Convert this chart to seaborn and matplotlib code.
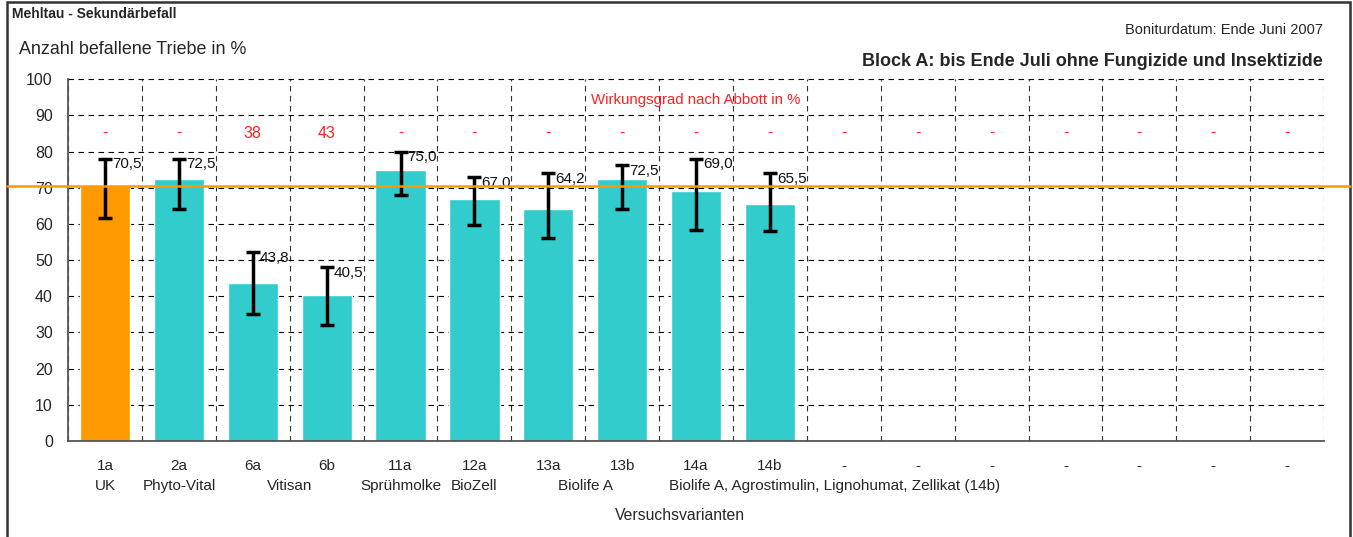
import numpy as np
import pandas as pd
import seaborn as sns
import matplotlib.pyplot as plt
import matplotlib.transforms as mtransforms
from matplotlib.patches import Rectangle
from matplotlib.lines import Line2D

# Daten
codes = ["1a", "2a", "6a", "6b", "11a", "12a", "13a", "13b", "14a", "14b",
         "-", "-", "-", "-", "-", "-", "-"]
values = [70.5, 72.5, 43.8, 40.5, 75.0, 67.0, 64.2, 72.5, 69.0, 65.5]
err_upper = [78.0, 78.0, 52.2, 48.0, 80.0, 73.0, 74.1, 76.2, 78.0, 74.1]
err_lower = [61.7, 64.1, 35.2, 32.2, 68.0, 59.8, 56.0, 64.1, 58.4, 58.0]
abbott = ["-", "-", "38", "43", "-", "-", "-", "-", "-", "-",
          "-", "-", "-", "-", "-", "-", "-"]
# Produktnamen (Text, Position in Kategorien)
names = [("UK", 0), ("Phyto-Vital", 1), ("Vitisan", 2.5), ("Sprühmolke", 4),
         ("BioZell", 5), ("Biolife A", 6.5)]
name_14 = "Biolife A, Agrostimulin, Lignohumat, Zellikat (14b)"

df = pd.DataFrame({"pos": np.arange(len(values)), "wert": values})
df["gruppe"] = ["UK"] + ["Variante"] * (len(values) - 1)

sns.set_style("white")
plt.rcParams["font.family"] = ["Liberation Sans", "DejaVu Sans"]

fig = plt.figure(figsize=(13.53, 5.37), dpi=100)
ax = fig.add_axes([0.0503, 0.1788, 0.9283, 0.6735])

sns.barplot(data=df, x="pos", y="wert", hue="gruppe", native_scale=True,
            palette={"UK": "#FF9900", "Variante": "#33CCCC"}, width=0.68,
            legend=False, saturation=1, ax=ax, zorder=2)

vals = np.array(values)
yerr = [vals - np.array(err_lower), np.array(err_upper) - vals]
ax.errorbar(df["pos"], vals, yerr=yerr, fmt="none", ecolor="black",
            elinewidth=2.5, capsize=5, capthick=2.5, zorder=4)

for i, v in enumerate(values):
    ax.annotate(f"{v:.1f}".replace(".", ","), (i, err_upper[i]),
                xytext=(5, 1), textcoords="offset points", ha="left", va="top",
                fontsize=11, color="#111111", zorder=5)

for i, t in enumerate(abbott):
    ax.text(i, 85, t, ha="center", va="center", color="#FF2020", fontsize=11.5)
ax.text(8.0, 94.4, "Wirkungsgrad nach Abbott in %", ha="center", va="center",
        color="#FF2020", fontsize=10.8)

ax.set_xlim(-0.5, len(codes) - 0.5)
ax.set_ylim(0, 100)
ax.set_yticks(np.arange(0, 101, 10))
ax.set_xticks(np.arange(len(codes)))
ax.set_xticklabels(codes, fontsize=11)
ax.set_xticks(np.arange(-0.5, len(codes), 1), minor=True)
ax.tick_params(axis="x", which="major", length=0, pad=13)
ax.tick_params(axis="x", which="minor", length=8, direction="inout", color="#333333")
ax.tick_params(axis="y", length=8, direction="inout", color="#333333", labelsize=11.5, pad=7)
ax.set_xlabel("")
ax.set_ylabel("")

ax.grid(axis="y", which="major", color="black", linestyle=(0, (5, 4)), linewidth=0.8)
ax.grid(axis="x", which="minor", color="#333333", linestyle=(0, (5, 4)), linewidth=0.8)
ax.set_axisbelow(True)
for s in ["top", "right"]:
    ax.spines[s].set_visible(False)
for s in ["left", "bottom"]:
    ax.spines[s].set_color("#555555")
    ax.spines[s].set_linewidth(1.3)

# Kontrolllinie UK quer über das Bild
tr = mtransforms.blended_transform_factory(fig.transFigure, ax.transData)
fig.add_artist(Line2D([0.005, 0.998], [values[0], values[0]], transform=tr,
                      color="#FF9900", linewidth=1.8, zorder=6))

# Produktnamen unter den Codes
trx = mtransforms.blended_transform_factory(ax.transData, fig.transFigure)
for n, p in names:
    ax.text(p, 1 - 486 / 537, n, transform=trx, ha="center", va="center",
            fontsize=11)
ax.text(7.64, 1 - 486 / 537, name_14, transform=trx, ha="left", va="center",
        fontsize=11)
ax.text(7.78, 1 - 516 / 537, "Versuchsvarianten", transform=trx, ha="center",
        va="center", fontsize=11.3)

fig.text(12 / 1353, 1 - 14 / 537, "Mehltau - Sekundärbefall", ha="left",
         va="center", fontsize=10, fontweight="bold")
fig.text(19 / 1353, 1 - 50 / 537, "Anzahl befallene Triebe in %", ha="left",
         va="center", fontsize=12.9)
fig.text(1323 / 1353, 1 - 30 / 537, "Boniturdatum: Ende Juni 2007", ha="right",
         va="center", fontsize=10.5)
fig.text(1323 / 1353, 1 - 61 / 537, "Block A: bis Ende Juli ohne Fungizide und Insektizide",
         ha="right", va="center", fontsize=13, fontweight="bold")

fig.add_artist(Rectangle((7 / 1353, -0.1), 1343 / 1353, 1.097, transform=fig.transFigure,
                         fill=False, edgecolor="#333333", linewidth=1.8))

fig.savefig("out.png", dpi=100)
